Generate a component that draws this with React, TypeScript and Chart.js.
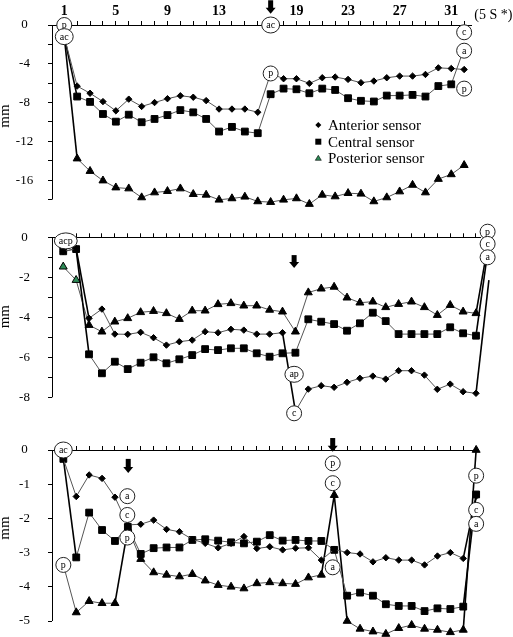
import React, { useEffect, useRef } from 'react';
import { Chart, registerables } from 'chart.js';

Chart.register(...registerables);

const FONT = "'Liberation Serif', 'Times New Roman', serif";

// ---------- Panel 1 ----------
const p1X = [1, 2, 3, 4, 5, 6, 7, 8, 9, 10, 11, 12, 13, 14, 15, 16, 17, 18, 19, 20, 21, 22, 23, 24, 25, 26, 27, 28, 29, 30, 31, 32];
const p1Anterior = [-1.2, -6.3, -7.04, -7.9, -8.85, -7.65, -8.4, -8.0, -7.6, -7.3, -7.45, -7.8, -8.67, -8.67, -8.67, -9.0, -5.0, -5.54, -5.54, -6.02, -5.44, -5.37, -5.61, -5.95, -5.78, -5.44, -5.27, -5.27, -5.1, -4.42, -4.49, -4.59];
const p1Central = [-1.2, -7.38, -7.93, -9.18, -9.97, -9.25, -10.03, -9.69, -9.29, -8.78, -9.01, -9.69, -10.99, -10.51, -10.99, -11.16, -7.14, -6.56, -6.63, -7.04, -6.56, -6.7, -7.55, -7.82, -7.89, -7.28, -7.28, -7.21, -7.38, -6.3, -6.12, -2.4];
const p1Posterior = [-1.2, -13.78, -15.07, -16.05, -16.77, -16.87, -17.79, -17.28, -17.14, -16.87, -17.45, -17.52, -18.03, -17.89, -17.72, -18.2, -18.27, -18.03, -17.89, -18.47, -17.52, -17.69, -17.35, -17.41, -18.2, -17.79, -17.18, -16.5, -17.28, -15.89, -15.41, -14.46];
const p1XTicks = [1, 2, 3, 4, 5, 6, 7, 8, 9, 10, 11, 12, 13, 14, 15, 16, 17, 18, 19, 20, 21, 22, 23, 24, 25, 26, 27, 28, 29, 30, 31, 32];
const p1XLabels = [1, 5, 9, 13, 19, 23, 27, 31];
const p1YTicks = [0, -2, -4, -6, -8, -10, -12, -14, -16, -18];
const p1YLabels = [0, -4, -8, -12, -16];
const p1Circles = [
  { x: 1, y: 0, t: 'p' }, { x: 1, y: -1.2, t: 'ac' },
  { x: 17, y: 0, t: 'ac' }, { x: 17, y: -5.0, t: 'p' },
  { x: 32, y: -0.75, t: 'c' }, { x: 32, y: -2.65, t: 'a' }, { x: 32, y: -6.56, t: 'p' },
];
const p1Arrows = [{ x: 17, top: 2.55, tip: 1.15 }];

// ---------- Panel 2 ----------
const p2X = [1, 2, 3, 4, 5, 6, 7, 8, 9, 10, 11, 12, 13, 14, 15, 16, 17, 18, 19, 20, 21, 22, 23, 24, 25, 26, 27, 28, 29, 30, 31, 32, 33, 34];
const p2Anterior = [-0.72, -0.55, -4.05, -3.59, -4.84, -4.85, -4.75, -5.02, -5.39, -5.22, -5.14, -4.72, -4.77, -4.6, -4.64, -4.84, -4.84, -4.77, -8.7, -7.59, -7.42, -7.5, -7.25, -7.05, -6.94, -7.09, -6.67, -6.67, -6.89, -7.6, -7.34, -7.72, -7.8, -2.14];
const p2Central = [-0.7, -0.59, -5.85, -6.8, -6.22, -6.59, -6.27, -6.0, -6.3, -6.1, -5.89, -5.59, -5.64, -5.55, -5.55, -5.8, -5.97, -5.8, -5.77, -4.1, -4.22, -4.34, -4.67, -4.3, -3.77, -4.19, -4.84, -4.84, -4.84, -4.84, -4.5, -4.8, -4.92, -0.3];
const p2Posterior = [-1.47, -2.14, -4.39, -4.72, -4.22, -4.05, -3.75, -3.69, -3.8, -4.09, -3.67, -3.67, -3.35, -3.3, -3.42, -3.42, -3.63, -3.72, -4.72, -2.76, -2.57, -2.48, -3.02, -3.27, -3.22, -3.5, -3.34, -3.22, -3.5, -3.89, -3.39, -3.72, -3.8, -0.1];
const p2XTicks = [1, 2, 3, 4, 5, 6, 7, 8, 9, 10, 11, 12, 13, 14, 15, 16, 17, 18, 19, 20, 21, 22, 23, 24, 25, 26, 27, 28, 29, 30, 31, 32, 33];
const p2YTicks = [0, -1, -2, -3, -4, -5, -6, -7, -8];
const p2YLabels = [0, -2, -4, -6, -8];
const p2Circles = [
  { x: 1.2, y: -0.18, t: 'acp' },
  { x: 18.9, y: -6.85, t: 'ap' }, { x: 18.9, y: -8.8, t: 'c' },
  { x: 33.9, y: 0.28, t: 'p' }, { x: 33.9, y: -0.33, t: 'c' }, { x: 33.9, y: -1.0, t: 'a' },
];
const p2Arrows = [{ x: 18.9, top: -0.89, tip: -1.54 }];

// ---------- Panel 3 ----------
const p3X = [1, 2, 3, 4, 5, 6, 7, 8, 9, 10, 11, 12, 13, 14, 15, 16, 17, 18, 19, 20, 21, 22, 23, 24, 25, 26, 27, 28, 29, 30, 31, 32, 33];
const p3Anterior = [-0.26, -1.36, -0.73, -0.83, -1.38, -2.19, -2.17, -2.05, -2.32, -2.39, -2.61, -2.73, -2.86, -2.73, -2.53, -2.88, -2.83, -2.92, -2.87, -2.86, -3.22, -2.9, -3.0, -3.04, -3.27, -3.15, -3.22, -3.22, -3.36, -3.1, -3.0, -3.17, -1.35];
const p3Central = [-0.26, -3.14, -1.83, -2.34, -2.66, -2.25, -3.04, -2.87, -2.85, -2.85, -2.63, -2.61, -2.65, -2.7, -2.73, -2.68, -2.49, -2.65, -2.63, -2.66, -2.66, -2.92, -4.26, -4.17, -4.26, -4.51, -4.56, -4.56, -4.71, -4.63, -4.65, -4.58, -1.3];
const p3Posterior = [-3.36, -4.75, -4.42, -4.48, -4.48, -2.3, -3.19, -3.58, -3.65, -3.7, -3.63, -3.82, -3.95, -4.0, -4.05, -3.9, -3.87, -3.9, -3.92, -3.73, -3.65, -1.32, -5.0, -5.23, -5.31, -5.38, -5.21, -5.12, -5.23, -5.26, -5.33, -5.26, 0];
const p3XTicks = [1, 2, 3, 4, 5, 6, 7, 8, 9, 10, 11, 12, 13, 14, 15, 16, 17, 18, 19, 20, 21, 22, 23, 24, 25, 26, 27, 28, 29, 30, 31, 32];
const p3YTicks = [0, -1, -2, -3, -4, -5];
const p3YLabels = [0, -1, -2, -3, -4, -5];
const p3Circles = [
  { x: 1, y: 0, t: 'ac' }, { x: 1, y: -3.36, t: 'p' },
  { x: 5.96, y: -1.35, t: 'a' }, { x: 5.96, y: -1.9, t: 'c' }, { x: 5.96, y: -2.56, t: 'p' },
  { x: 21.88, y: -0.39, t: 'p' }, { x: 21.88, y: -0.97, t: 'c' }, { x: 21.88, y: -3.43, t: 'a' },
  { x: 33, y: -0.75, t: 'p' }, { x: 33, y: -1.75, t: 'c' }, { x: 33, y: -2.16, t: 'a' },
];
const p3Arrows = [{ x: 6.03, top: -0.26, tip: -0.67 }, { x: 21.88, top: 0.35, tip: -0.05 }];

const legendLabels = ['Anterior sensor', 'Central sensor', 'Posterior sensor'];
const yTitle = 'mm';
const xUnit = '(5 S *)';

const GREEN = '#2e8b57';

type Circ = { x: number; y: number; t: string };
type Arr = { x: number; top: number; tip: number };

interface PanelCfg {
  top: number;
  height: number;
  xMin: number;
  xMax: number;
  xs: number[];
  anterior: number[];
  central: number[];
  posterior: number[];
  xTicks: number[];
  xLabels: number[] | null;
  yMin: number;
  axisMin: number;
  yTicks: number[];
  yLabels: number[];
  axisH: number;
  padRight: number;
  padBottom: number;
  circles: Circ[];
  arrows: Arr[];
  mmY: number;
  legend: boolean;
  greenPost: number[];
  navyAnt: number[];
}

const panels: PanelCfg[] = [
  {
    top: 0, height: 215, xMin: 0.05, xMax: 32.55, xs: p1X,
    anterior: p1Anterior, central: p1Central, posterior: p1Posterior,
    xTicks: p1XTicks, xLabels: p1XLabels, yMin: -19, axisMin: -18, yTicks: p1YTicks, yLabels: p1YLabels,
    axisH: 25, padRight: 41.75, padBottom: 3.8,
    circles: p1Circles, arrows: p1Arrows, mmY: 116, legend: true, greenPost: [], navyAnt: [],
  },
  {
    top: 215, height: 210, xMin: 0.13, xMax: 33.38, xs: p2X,
    anterior: p2Anterior, central: p2Central, posterior: p2Posterior,
    xTicks: p2XTicks, xLabels: null, yMin: -8, axisMin: -8, yTicks: p2YTicks, yLabels: p2YLabels,
    axisH: 22.3, padRight: 32.1, padBottom: 27.7,
    circles: p2Circles, arrows: p2Arrows, mmY: 101.7, legend: false, greenPost: [0, 1], navyAnt: [33],
  },
  {
    top: 425, height: 220, xMin: 0.12, xMax: 33.05, xs: p3X,
    anterior: p3Anterior, central: p3Central, posterior: p3Posterior,
    xTicks: p3XTicks, xLabels: null, yMin: -5.5, axisMin: -5, yTicks: p3YTicks, yLabels: p3YLabels,
    axisH: 25, padRight: 36.2, padBottom: 6.9,
    circles: p3Circles, arrows: p3Arrows, mmY: 103, legend: false, greenPost: [], navyAnt: [],
  },
];

function makeOverlay(cfg: PanelCfg) {
  return {
    id: 'overlay',
    beforeDatasetsDraw(chart: any) {
      const ctx: CanvasRenderingContext2D = chart.ctx;
      const ys = chart.scales.y;
      const x = Math.round(chart.chartArea.left - 0.5) + 0.5;
      ctx.save();
      ctx.strokeStyle = '#000';
      ctx.lineWidth = 1;
      ctx.beginPath();
      ctx.moveTo(x, chart.chartArea.top);
      ctx.lineTo(x, ys.getPixelForValue(cfg.axisMin));
      ctx.stroke();
      // y tick labels, centred in the label column
      ctx.fillStyle = '#000';
      ctx.font = `13px ${FONT}`;
      ctx.textAlign = 'center';
      ctx.textBaseline = 'middle';
      for (const v of cfg.yLabels) {
        ctx.fillText(String(v), 24.5, ys.getPixelForValue(v));
      }
      ctx.restore();
    },
    afterDatasetsDraw(chart: any) {
      const ctx: CanvasRenderingContext2D = chart.ctx;
      const xs = chart.scales.x;
      const ys = chart.scales.y;
      ctx.save();
      ctx.fillStyle = '#000';
      for (const a of cfg.arrows) {
        const cx = xs.getPixelForValue(a.x);
        const yt = ys.getPixelForValue(a.top);
        const yp = ys.getPixelForValue(a.tip);
        const headH = Math.min(6, (yp - yt) * 0.5);
        ctx.fillRect(cx - 2.5, yt, 5, yp - yt - headH + 0.5);
        ctx.beginPath();
        ctx.moveTo(cx - 5, yp - headH);
        ctx.lineTo(cx + 5, yp - headH);
        ctx.lineTo(cx, yp);
        ctx.closePath();
        ctx.fill();
      }
      ctx.font = `10px ${FONT}`;
      ctx.textAlign = 'center';
      ctx.textBaseline = 'alphabetic';
      for (const c of cfg.circles) {
        const cx = xs.getPixelForValue(c.x);
        const cy = ys.getPixelForValue(c.y);
        const w = ctx.measureText(c.t).width;
        const rx = Math.max(7.5, w / 2 + 4.5);
        const ry = c.t.length > 1 ? 8 : 7.5;
        ctx.beginPath();
        ctx.ellipse(cx, cy, rx, ry, 0, 0, Math.PI * 2);
        ctx.fillStyle = '#fff';
        ctx.fill();
        ctx.lineWidth = 1;
        ctx.strokeStyle = '#222';
        ctx.stroke();
        ctx.fillStyle = '#000';
        ctx.fillText(c.t, cx, cy + 3);
      }
      ctx.restore();
    },
    afterDraw(chart: any) {
      const ctx: CanvasRenderingContext2D = chart.ctx;
      ctx.save();
      ctx.fillStyle = '#000';
      ctx.font = `15px ${FONT}`;
      ctx.translate(8.5, cfg.mmY);
      ctx.rotate(-Math.PI / 2);
      ctx.textAlign = 'center';
      ctx.textBaseline = 'alphabetic';
      ctx.fillText(yTitle, 0, 0);
      ctx.restore();
      if (cfg.legend) {
        ctx.save();
        ctx.fillStyle = '#000';
        ctx.font = `14px ${FONT}`;
        ctx.textAlign = 'left';
        ctx.textBaseline = 'alphabetic';
        ctx.fillText(xUnit, chart.chartArea.right + 3, 18.5);
        ctx.font = `15px ${FONT}`;
        const mx = 318.3;
        const rows = [125, 141.7, 158.3];
        legendLabels.forEach((lab, i) => {
          const my = rows[i];
          ctx.beginPath();
          if (i === 0) {
            ctx.moveTo(mx - 3, my); ctx.lineTo(mx, my - 3); ctx.lineTo(mx + 3, my); ctx.lineTo(mx, my + 3);
            ctx.closePath();
            ctx.fillStyle = '#000';
            ctx.fill();
          } else if (i === 1) {
            ctx.fillStyle = '#000';
            ctx.fillRect(mx - 3, my - 3, 6, 6);
          } else {
            ctx.moveTo(mx, my - 3); ctx.lineTo(mx + 3, my + 2); ctx.lineTo(mx - 3, my + 2);
            ctx.closePath();
            ctx.fillStyle = GREEN;
            ctx.fill();
            ctx.strokeStyle = '#000';
            ctx.lineWidth = 0.6;
            ctx.stroke();
          }
          ctx.fillStyle = '#000';
          ctx.fillText(lab, 328, my + 5);
        });
        ctx.restore();
      }
    },
  };
}

const segStyle = {
  borderWidth: (c: any) => (Math.abs(c.p1.y - c.p0.y) > 52 ? 1.6 : 1),
  borderColor: (c: any) => (Math.abs(c.p1.y - c.p0.y) > 52 ? '#000' : '#555'),
};

function Panel({ cfg }: { cfg: PanelCfg }) {
  const ref = useRef<HTMLCanvasElement | null>(null);
  useEffect(() => {
    if (!ref.current) return;
    const toPts = (vals: number[]) => cfg.xs.map((x, i) => ({ x, y: vals[i] }));
    const base = {
      showLine: true,
      borderColor: '#555',
      borderWidth: 1,
      tension: 0,
      clip: false as any,
      pointBorderColor: '#000',
      pointBorderWidth: 1,
      segment: segStyle,
    };
    const chart = new Chart(ref.current, {
      type: 'line',
      data: {
        datasets: [
          {
            ...base,
            label: legendLabels[0],
            data: toPts(cfg.anterior),
            pointStyle: 'rectRot',
            pointRadius: 3.2,
            pointBackgroundColor: (c: any) => (cfg.navyAnt.includes(c.dataIndex) ? '#1c2a6b' : '#000'),
            pointBorderColor: (c: any) => (cfg.navyAnt.includes(c.dataIndex) ? '#1c2a6b' : '#000'),
          },
          {
            ...base,
            label: legendLabels[1],
            data: toPts(cfg.central),
            pointStyle: 'rect',
            pointRadius: 4.8,
            pointBackgroundColor: '#000',
          },
          {
            ...base,
            label: legendLabels[2],
            data: toPts(cfg.posterior),
            pointStyle: 'triangle',
            pointRadius: 4.6,
            pointBackgroundColor: (c: any) => (cfg.greenPost.includes(c.dataIndex) ? GREEN : '#000'),
          },
        ] as any,
      },
      options: {
        animation: false,
        responsive: false,
        maintainAspectRatio: false,
        devicePixelRatio: 1,
        events: [],
        layout: { padding: { left: 0, top: 0, right: cfg.padRight, bottom: cfg.padBottom } },
        plugins: { legend: { display: false }, tooltip: { enabled: false } },
        scales: {
          x: {
            type: 'linear',
            position: 'top',
            min: cfg.xMin,
            max: cfg.xMax,
            afterBuildTicks: (s: any) => {
              s.ticks = cfg.xTicks.map((v) => ({ value: v }));
            },
            afterFit: (s: any) => {
              s.height = cfg.axisH;
            },
            grid: { drawOnChartArea: false, drawTicks: true, tickLength: 4, color: '#000', lineWidth: 1 },
            border: { color: '#000', width: 1 },
            ticks: {
              display: !!cfg.xLabels,
              autoSkip: false,
              maxRotation: 0,
              padding: 1,
              color: '#000',
              font: { family: FONT, size: 14, weight: 'bold' },
              callback: (v: any) => (cfg.xLabels && cfg.xLabels.includes(Number(v)) ? String(v) : ''),
            },
          },
          y: {
            type: 'linear',
            position: 'left',
            min: cfg.yMin,
            max: 0,
            afterBuildTicks: (s: any) => {
              s.ticks = cfg.yTicks.map((v) => ({ value: v }));
            },
            afterFit: (s: any) => {
              s.width = 52;
            },
            grid: { drawOnChartArea: false, drawTicks: true, tickLength: 4, color: '#000', lineWidth: 1 },
            border: { display: false },
            ticks: { display: false, autoSkip: false },
          },
        },
      } as any,
      plugins: [makeOverlay(cfg)],
    });
    return () => chart.destroy();
  }, [cfg]);
  return (
    <div style={{ position: 'absolute', left: 0, top: cfg.top, width: 513, height: cfg.height }}>
      <canvas ref={ref} width={513} height={cfg.height} style={{ display: 'block' }} />
    </div>
  );
}

export default function App() {
  return (
    <div style={{ position: 'absolute', left: 0, top: 0, width: 513, height: 637, background: '#fff', overflow: 'hidden' }}>
      {panels.map((p, i) => (
        <Panel key={i} cfg={p} />
      ))}
    </div>
  );
}
